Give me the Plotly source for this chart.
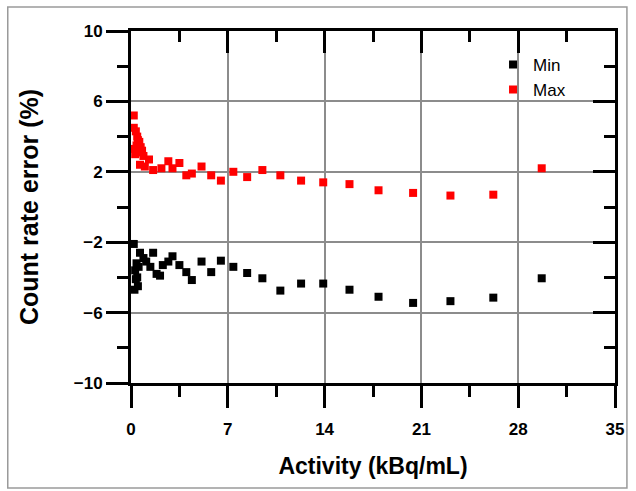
import plotly.graph_objects as go

# Count rate error vs activity
min_x = [0.2, 0.25, 0.3, 0.35, 0.4, 0.45, 0.5, 0.55, 0.65, 0.9, 1.1, 1.4, 1.6, 1.85,
         2.1, 2.3, 2.7, 3.0, 3.5, 4.0, 4.4, 5.1, 5.8, 6.5, 7.4, 8.4, 9.5, 10.8, 12.3,
         13.9, 15.8, 17.9, 20.4, 23.1, 26.2, 29.7]
min_y = [-2.1, -4.7, -3.6, -4.1, -3.2, -4.0, -4.5, -3.4, -2.6, -2.9, -3.1, -3.4, -2.6, -3.8,
         -3.9, -3.3, -3.1, -2.8, -3.3, -3.7, -4.15, -3.1, -3.7, -3.05, -3.4, -3.75, -4.05,
         -4.75, -4.35, -4.35, -4.7, -5.1, -5.45, -5.35, -5.15, -4.05]

max_x = [0.2, 0.2, 0.25, 0.3, 0.35, 0.4, 0.45, 0.5, 0.55, 0.6, 0.65, 0.7, 0.8, 0.9, 1.0,
         1.3, 1.6, 2.2, 2.7, 3.0, 3.5, 4.0, 4.4, 5.1, 5.8, 6.5, 7.4, 8.4, 9.5, 10.8, 12.3,
         13.9, 15.8, 17.9, 20.4, 23.1, 26.2, 29.7]
max_y = [5.2, 4.5, 3.3, 3.0, 4.3, 3.5, 4.0, 3.8, 3.1, 3.7, 2.4, 3.4, 3.2, 2.9, 2.3,
         2.7, 2.1, 2.2, 2.6, 2.2, 2.5, 1.8, 1.9, 2.3, 1.8, 1.5, 2.0, 1.7, 2.1, 1.8, 1.5,
         1.4, 1.3, 0.95, 0.8, 0.65, 0.7, 2.2]

x_ticks = [0, 7, 14, 21, 28, 35]
y_ticks = [-10, -6, -2, 2, 6, 10]

FONT = "Liberation Sans"

fig = go.Figure()
fig.add_trace(go.Scatter(x=min_x, y=min_y, mode="markers", name="Min",
                         marker=dict(symbol="square", size=8, color="black")))
fig.add_trace(go.Scatter(x=max_x, y=max_y, mode="markers", name="Max",
                         marker=dict(symbol="square", size=8, color="#ff0000")))

axis_common = dict(showline=True, linecolor="black", linewidth=3,
                   tickcolor="black", tickwidth=3, zeroline=False)

fig.update_layout(
    width=636, height=491,
    margin=dict(l=131, r=18, t=31, b=108),
    paper_bgcolor="white", plot_bgcolor="white",
    font=dict(family=FONT, color="black"),
    showlegend=True,
    legend=dict(x=0.748, y=0.955, xanchor="left", yanchor="top",
                bgcolor="rgba(0,0,0,0)", font=dict(size=17, family=FONT),
                tracegroupgap=0),
    xaxis=dict(range=[0, 35], tickvals=x_ticks, ticks="outside", ticklen=22,
               minor=dict(dtick=3.5, tick0=0, ticks="outside", ticklen=11,
                          tickwidth=3, tickcolor="black", showgrid=False),
               showgrid=True, gridcolor="#8c8c8c", gridwidth=1.5,
               tickfont=dict(size=17, weight="bold"), ticklabelstandoff=7,
               title=dict(text="Activity (kBq/mL)", standoff=20,
                          font=dict(size=23, weight="bold")),
               **axis_common),
    yaxis=dict(range=[-10, 10], tickvals=y_ticks, ticks="outside", ticklen=22,
               minor=dict(dtick=2, tick0=-10, ticks="outside", ticklen=11,
                          tickwidth=3, tickcolor="black", showgrid=False),
               showgrid=True, gridcolor="#8c8c8c", gridwidth=1.5,
               tickfont=dict(size=17, weight="bold"),
               title=dict(text="Count rate error (%)", standoff=29,
                          font=dict(size=25, weight="bold")),
               **axis_common),
    xaxis2=dict(range=[0, 35], overlaying="x", side="top", tickvals=x_ticks,
                ticks="inside", ticklen=22, showticklabels=False, showgrid=False,
                minor=dict(dtick=3.5, tick0=0, ticks="inside", ticklen=11,
                           tickwidth=3, tickcolor="black", showgrid=False),
                **axis_common),
    yaxis2=dict(range=[-10, 10], overlaying="y", side="right", tickvals=y_ticks,
                ticks="inside", ticklen=22, showticklabels=False, showgrid=False,
                minor=dict(dtick=2, tick0=-10, ticks="inside", ticklen=11,
                           tickwidth=3, tickcolor="black", showgrid=False),
                **axis_common),
)

# invisible trace so the mirrored axes are drawn
fig.add_trace(go.Scatter(x=[None], y=[None], xaxis="x2", yaxis="y2",
                         showlegend=False, hoverinfo="skip"))

# outer frame of the picture
fig.add_shape(type="rect", xref="paper", yref="paper",
              x0=-124 / 487, x1=1 + 12 / 487, y0=-105 / 352, y1=1 + 24 / 352,
              line=dict(color="#9a9a9a", width=1.5))

fig.write_html("out.html", config={"displayModeBar": False},
               post_script="document.body.style.margin='0';")
